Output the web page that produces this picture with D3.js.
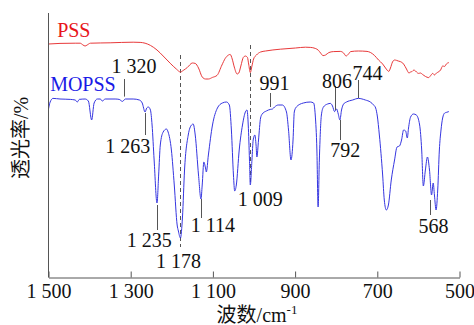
<!DOCTYPE html>
<html><head><meta charset="utf-8">
<script src="https://cdn.jsdelivr.net/npm/d3@7"></script>
<style>
html,body{margin:0;padding:0;background:#fff;}
svg{display:block;}
text{font-family:"Liberation Serif","Times New Roman","Noto Sans CJK SC",serif;}
</style></head>
<body><svg id="chart" width="474" height="325"></svg>
<script>
// ---- data (wavenumber cm-1, relative transmittance, curves stacked) ----
const xTicks = [1500, 1300, 1100, 900, 700, 500];

const mopssWn = [1500,1496,1489,1472,1447,1435,1430,1425,1411,1403,1395,1389,1381,1374,1369,1362,1338,1328,1320,1313,1294,1279,1272,1265,1261,1257,1252,1248,1243,1236,1232,1228,1221,1213,1209,1201,1194,1187,1184,1179,1174,1169,1160,1152,1148,1143,1135,1129,1126,1122,1118,1116,1111,1101,1089,1077,1067,1060,1055,1050,1047,1043,1036,1028,1021,1017,1014,1011,1009,1005,1002,998,995,993,989,984,980,970,965,960,955,950,941,931,921,916,910,905,902,897,880,863,855,851,847,844,841,836,831,821,814,809,804,799,795,791,787,782,775,760,746,729,717,709,704,700,695,687,683,678,673,666,658,652,646,641,636,631,627,624,619,612,605,597,592,588,583,578,573,568,564,561,557,553,549,545,541,536,532,526];
const mopssT = [84,87.5,89.3,89,88.8,88.5,87.5,88.8,89,88,78.5,87,89,89,88,89,89,88.8,87.8,89,89,88.5,87,82.5,84.5,85,83.5,76,58.5,37,51,66,72.5,74,72.5,63.5,46,26,23,19.5,30,53.5,71,76,76.5,71,51,39,46,57.5,54.5,52.5,61,76,84.5,87,87.5,86,73.5,51,43,46,63.5,76,82.5,83.5,76,58.5,46,58.5,68.5,71,66,60,68.5,79.5,81.5,83,83.5,83.8,84,85,86,86,82.5,73.5,58.5,68.5,82.5,85,87,87.5,87,81,63.5,35,58.5,81,85,86.5,86.8,85.5,82.7,84,81.5,78.5,83.5,86.5,87.5,88.5,89.3,88.5,87.5,86,84.5,80.5,71,51,38.5,33.5,36,48.5,58.5,65,65.5,68.5,73.5,73,69.5,74.5,80,81.5,81,76,63.5,45.5,53.5,60,53.5,41,47,41,33.5,43.5,63.5,73.5,79.5,82,82.3,82.7];

const pssWn = [1500,1472,1435,1423,1416,1411,1406,1398,1350,1294,1277,1265,1252,1236,1221,1204,1189,1179,1172,1162,1150,1143,1135,1126,1118,1111,1101,1090,1078,1070,1062,1058,1053,1048,1041,1037,1032,1026,1021,1016,1013,1009,1005,1001,994,984,972,936,899,875,863,851,843,838,832,826,818,807,790,782,776,770,765,746,725,717,707,697,687,680,672,668,663,658,653,649,644,636,629,623,619,615,611,607,602,599,595,590,583,575,571,565,561,556,550,546,541,536,532,526];
const pssT = [116.5,116.8,116.9,116.9,116,115.5,116,116.9,117.1,117.4,117.3,116.9,115.8,113.5,110.5,106.9,104,102.5,103.3,104.8,107,106.8,104.5,100,99,99,99.8,100.8,106,109.3,111,111.3,109,105,101.5,102,105.5,109.8,110.5,109.8,106.5,102.2,105.5,109,111,112.5,113,113.9,114.5,114.9,114.8,114.3,113.3,112,110.7,111,112.2,112.7,112.8,112,110.5,111.5,112.7,113,112.8,112.3,110.8,108.5,106.5,104.5,102.8,104.5,107.5,108.5,108.3,108,107.7,106.5,104,102,102.5,102.8,103.5,103,102,101.8,102,101.3,100.3,99.7,100.5,101.8,101,102,102.7,103.5,105.5,105.3,106.5,107.2];

const peakLabels = ["1 320","1 263","1 235","1 114","991","806","744","792","568"];
const peakWn     = [1317, 1265, 1236, 1129, 960, 804, 746, 791, 572];
const markerWn   = [1179, 1009];   // dashed reference lines
const markerLabels = ["1 178","1 009"];

// ---- layout ----
const W = 474, H = 325;
const x = d3.scaleLinear().domain([1500, 500]).range([48.5, 459.5]);
const y = d3.scaleLinear().domain([0, 132]).range([277, 13]);
const svg = d3.select("#chart");

// leader line ends (T units) and label centre/baseline (wn, T) for each peak
const peakLayout = [
  {y1:99, y2:90.2, tx:1292, ty:102},
  {y1:82, y2:71, tx:1307, ty:62.2},
  {y1:36, y2:23.5, tx:1255, ty:15.2},
  {y1:39, y2:29.5, tx:1100, ty:22.7},
  {y1:92, y2:85, tx:950, ty:93.5},
  {y1:95.5, y2:83.5, tx:798, ty:94.5},
  {y1:98.5, y2:89.5, tx:724, ty:98.5},
  {y1:78.5, y2:68.5, tx:778, ty:59.9},
  {y1:38.5, y2:31, tx:563, ty:21.9}
];
const markerLayout = [
  {y1:111, y2:15, tx:1184, ty:4.4},
  {y1:116, y2:47, tx:985, ty:35.5}
];

const line = d3.line().x(d => x(d[0])).y(d => y(d[1])).curve(d3.curveMonotoneX);

// dashed lines
markerWn.forEach((wn, i) => {
  const L = markerLayout[i];
  svg.append("line").attr("x1", Math.round(x(wn))+0.5).attr("x2", Math.round(x(wn))+0.5)
    .attr("y1", y(L.y1)).attr("y2", y(L.y2))
    .attr("stroke", "#555").attr("stroke-width", 1).attr("stroke-dasharray", "4,3");
  svg.append("text").attr("x", x(L.tx)).attr("y", y(L.ty)).attr("text-anchor", "middle")
    .attr("font-size", 20).attr("fill", "#111").text(markerLabels[i]);
});

// spectra
svg.append("path").datum(d3.zip(pssWn, pssT)).attr("d", line)
  .attr("fill", "none").attr("stroke", "#e8393a").attr("stroke-width", 1);
svg.append("path").datum(d3.zip(mopssWn, mopssT)).attr("d", line)
  .attr("fill", "none").attr("stroke", "#3535e0").attr("stroke-width", 1);

// peak labels
peakLabels.forEach((lab, i) => {
  const L = peakLayout[i];
  const px = Math.round(x(peakWn[i])) + 0.5;
  svg.append("line").attr("x1", px).attr("x2", px).attr("y1", y(L.y1)).attr("y2", y(L.y2))
    .attr("stroke", "#555").attr("stroke-width", 1);
  svg.append("text").attr("x", x(L.tx)).attr("y", y(L.ty)).attr("text-anchor", "middle")
    .attr("font-size", 20).attr("fill", "#111").text(lab);
});

// series names
svg.append("text").attr("x", x(1479)).attr("y", y(120)).attr("font-size", 20)
  .attr("fill", "#e8141a").text("PSS");
svg.append("text").attr("x", x(1496)).attr("y", y(93)).attr("font-size", 20)
  .attr("fill", "#1a1ae6").text("MOPSS");

// axes
const fmt = d3.formatLocale({decimal: ".", thousands: " ", grouping: [3], currency: ["", ""]}).format(",");
const gx = svg.append("g").attr("transform", "translate(0,277.5)")
  .call(d3.axisBottom(x).tickValues(xTicks).tickFormat(fmt).tickSizeInner(-6).tickSizeOuter(0).tickPadding(6));
gx.select(".domain").attr("stroke", "#555");
gx.selectAll(".tick line").attr("stroke", "#555");
gx.selectAll(".tick text").attr("font-size", 20).attr("fill", "#111")
  .attr("font-family", "Liberation Serif, serif");
svg.append("line").attr("x1", x(1500)).attr("x2", x(1500)).attr("y1", 13).attr("y2", 277.5)
  .attr("stroke", "#555").attr("stroke-width", 1);

// axis titles
const xt = svg.append("text").attr("x", 257).attr("y", 322).attr("text-anchor", "middle")
  .attr("font-size", 20).attr("fill", "#111");
xt.append("tspan").text("波数/cm");
xt.append("tspan").attr("font-size", 13).attr("dy", -8).text("-1");

svg.append("text").attr("transform", "translate(28,138) rotate(-90)").attr("text-anchor", "middle")
  .attr("font-size", 20).attr("fill", "#111").text("透光率/%");
</script></body></html>
